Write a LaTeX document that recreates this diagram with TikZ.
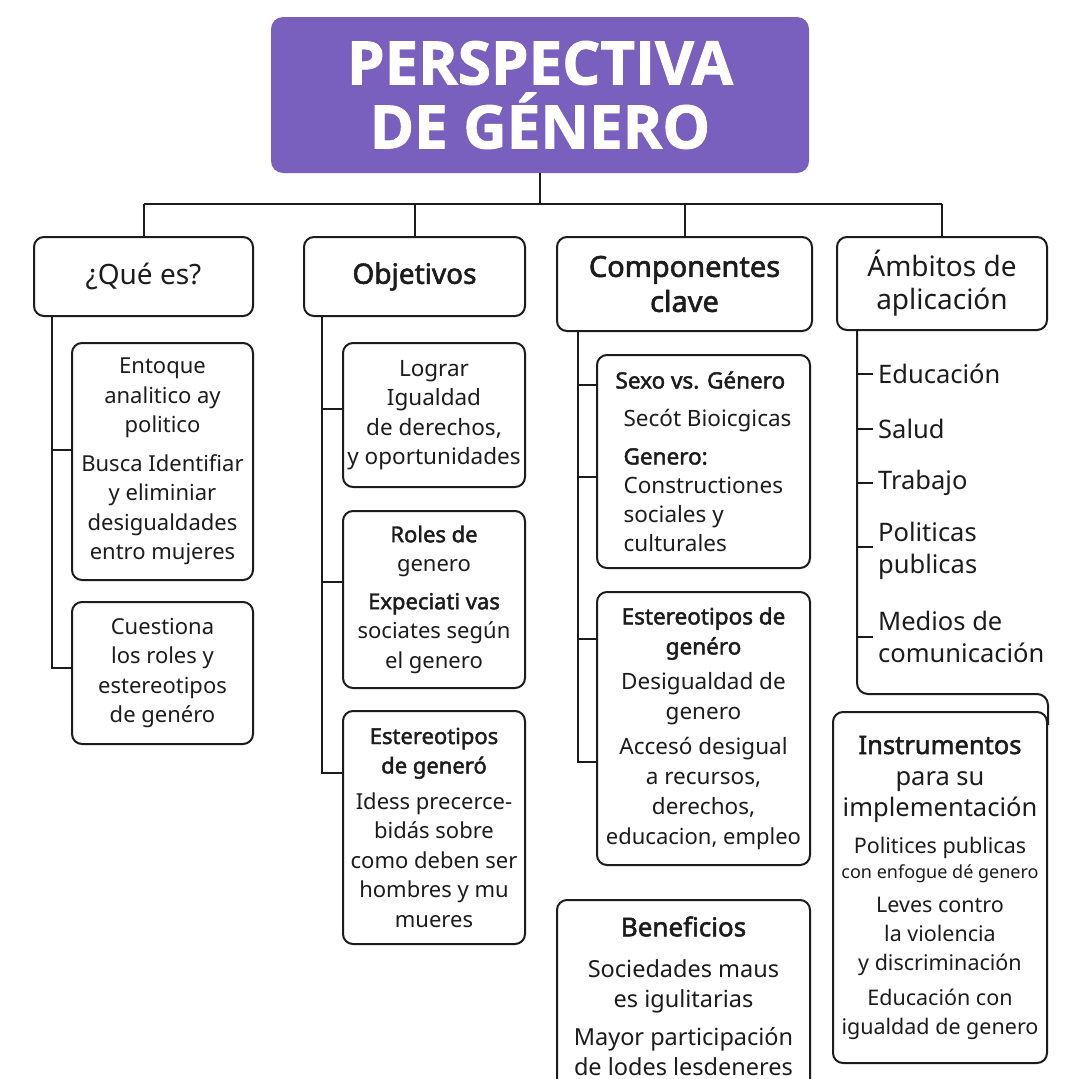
\documentclass[tikz,border=0pt]{standalone}
\usepackage{fontspec}
\setmainfont{Noto Sans}
\newfontfamily\titlefont{Open Sans}[FakeBold=1.5]
\newfontfamily\medfont{Noto Sans}[FakeBold=2]
\definecolor{ink}{HTML}{1C1C1C}
\definecolor{purp}{HTML}{7A60BE}
\newcommand\bodyf{\fontsize{22}{29.5}\selectfont}
\newcommand\hdrf{\fontsize{28}{34}\selectfont}
\newcommand\bigf{\fontsize{25.5}{31}\selectfont}
\begin{document}
\begin{tikzpicture}[x=1pt,y=-1pt,
  conn/.style={draw=ink,line width=2pt},
  box/.style={draw=ink,line width=2pt,rounded corners=10pt,inner sep=0pt,align=center,text=ink,font=\bodyf},
  hdr/.style={box,font=\hdrf},
  item/.style={inner sep=0pt,anchor=west,align=left,text=ink,font=\fontsize{25.5}{32}\selectfont},
  titlebox/.style={fill=purp,rounded corners=12pt,inner sep=0pt,align=center,text=white,
    font=\titlefont\bfseries\fontsize{60}{64}\selectfont}]
\useasboundingbox (0,0) rectangle (1080,1079);
\clip (0,0) rectangle (1080,1079);
\fill[white] (0,0) rectangle (1080,1079);

% title
\node[titlebox,minimum width=538pt,minimum height=156pt] (title) at (540,95) {PERSPECTIVA\\DE GÉNERO};

% headers
\node[hdr,minimum width=219pt,minimum height=79pt] (h1) at (143.5,276.5) {¿Qué es?};
\node[hdr,minimum width=221pt,minimum height=79pt] (h2) at (414.5,276.5) {\medfont Objetivos};
\node[hdr,minimum width=255pt,minimum height=94pt,font=\fontsize{29}{35}\selectfont] (h3) at (684.5,284) {{\medfont Componentes}\\{\medfont clave}};
\node[hdr,minimum width=210pt,minimum height=93pt,font=\fontsize{28}{33}\selectfont] (h4) at (942,283.5) {Ámbitos de\\aplicación};

% tree connectors
\coordinate (bar) at (540,204);
\draw[conn] (title.south) -- (bar);
\draw[conn] (h1.north |- bar) -- (h4.north |- bar);
\draw[conn] (h1.north |- bar) -- (h1.north);
\draw[conn] (h2.north |- bar) -- (h2.north);
\draw[conn] (h3.north |- bar) -- (h3.north);
\draw[conn] (h4.north |- bar) -- (h4.north);

% column 1
\node[box,minimum width=181pt,minimum height=237pt] (b1a) at (162.5,461.5)
 {Entoque\\analitico ay\\politico\\[9pt]Busca Identifiar\\y eliminiar\\desigualdades\\entro mujeres};
\node[box,minimum width=181pt,minimum height=142pt] (b1b) at (162.5,673)
 {Cuestiona\\los roles y\\estereotipos\\de genéro};
\coordinate (s1) at (52,0);
\draw[conn] (h1.south -| s1) |- ([yshift=5pt]b1b.west);
\draw[conn] ([yshift=11.5pt]b1a.west) -- ++(-20,0);

% column 2
\node[box,minimum width=182pt,minimum height=144pt,font=\fontsize{22.5}{29.5}\selectfont] (b2a) at (434,415)
 {Lograr\\Igualdad\\de derechos,\\y oportunidades};
\node[box,minimum width=182pt,minimum height=177pt] (b2b) at (434,599.5)
 {{\medfont Roles de}\\genero\\[8pt]{\medfont Expeciati vas}\\sociates según\\el genero};
\node[box,minimum width=182pt,minimum height=233pt] (b2c) at (434,827.5)
 {{\medfont Estereotipos}\\{\medfont de generó}\\[6pt]Idess precerce-\\bidás sobre\\como deben ser\\hombres y mu\\mueres};
\coordinate (s2) at (322,0);
\draw[conn] (h2.south -| s2) |- ([yshift=54.5pt]b2c.west);
\draw[conn] ([yshift=6pt]b2a.west) -- ++(-21,0);
\draw[conn] ([yshift=17.5pt]b2b.west) -- ++(-21,0);

% column 3
\node[box,minimum width=213pt,minimum height=213pt,align=left,font=\fontsize{22.5}{29}\selectfont] (b3a) at (703.5,461.5)
 {{\medfont Sexo vs. Género}\\[9pt]
  \hspace*{8pt}Secót Bioicgicas\\[9pt]
  \hspace*{8pt}{\medfont Genero:}\\
  \hspace*{8pt}Constructiones\\
  \hspace*{8pt}sociales y\\
  \hspace*{8pt}culturales};
\node[box,minimum width=213pt,minimum height=273pt,font=\fontsize{22.5}{30}\selectfont] (b3b) at (703.5,728.5)
 {{\medfont Estereotipos de}\\{\medfont genéro}\\[5pt]Desigualdad de\\genero\\[5pt]Accesó desigual\\a recursos,\\derechos,\\{\fontsize{22}{30}\selectfont educacion, empleo}};
\coordinate (s3) at (578,0);
\draw[conn] (h3.south -| s3) |- ([yshift=-33.5pt]b3b.west);
\draw[conn] ([yshift=76.5pt]b3a.west) -- ++(-19,0);
\draw[conn] ([yshift=-15.5pt]b3a.west) -- ++(-19,0);
\draw[conn] ([yshift=89.5pt]b3b.west) -- ++(-19,0);

% beneficios
\node[box,minimum width=253pt,minimum height=192pt,font=\fontsize{23.5}{30}\selectfont] (b3c) at (683.5,996)
 {{\medfont\fontsize{26}{30}\selectfont Beneficios}\\[11pt]Sociedades maus\\es igulitarias\\[8pt]Mayor participación\\de lodes lesdeneres};

% column 4
\node[item] (e1) at (878,374) {Educación};
\node[item] (e2) at (878,429) {Salud};
\node[item] (e3) at (878,483) {Trabajo};
\node[item] (e4) at (878,551) {Politicas\\publicas};
\node[item] (e5) at (878,637) {Medios de\\comunicación};
\node[box,minimum width=214pt,minimum height=351pt,font=\fontsize{21.5}{29}\selectfont] (inst) at (940,887.5)
 {{\bigf\medfont Instrumentos}\\[2pt]{\bigf para su}\\[2pt]{\bigf implementación}\\[8pt]
  Politices publicas\\[-4pt]{\fontsize{18}{20}\selectfont con enfogue dé genero}\\[5pt]
  Leves contro\\la violencia\\y discriminación\\[6pt]Educación con\\igualdad de genero};
\coordinate (s4) at (857,0);
\coordinate (c4) at (857,694);
\draw[conn,rounded corners=11pt] (h4.south -| s4) -- (c4) -- (inst.north east |- c4) -- ([yshift=-14pt]inst.north east);
\foreach \e in {e1,e2,e3} \draw[conn] (\e.west -| s4) -- ([xshift=-5pt]\e.west);
\draw[conn] ([yshift=4pt]e4.west -| s4) -- ([xshift=-5pt,yshift=4pt]e4.west);
\draw[conn] (e5.west -| s4) -- ([xshift=-5pt]e5.west);
\end{tikzpicture}
\end{document}
